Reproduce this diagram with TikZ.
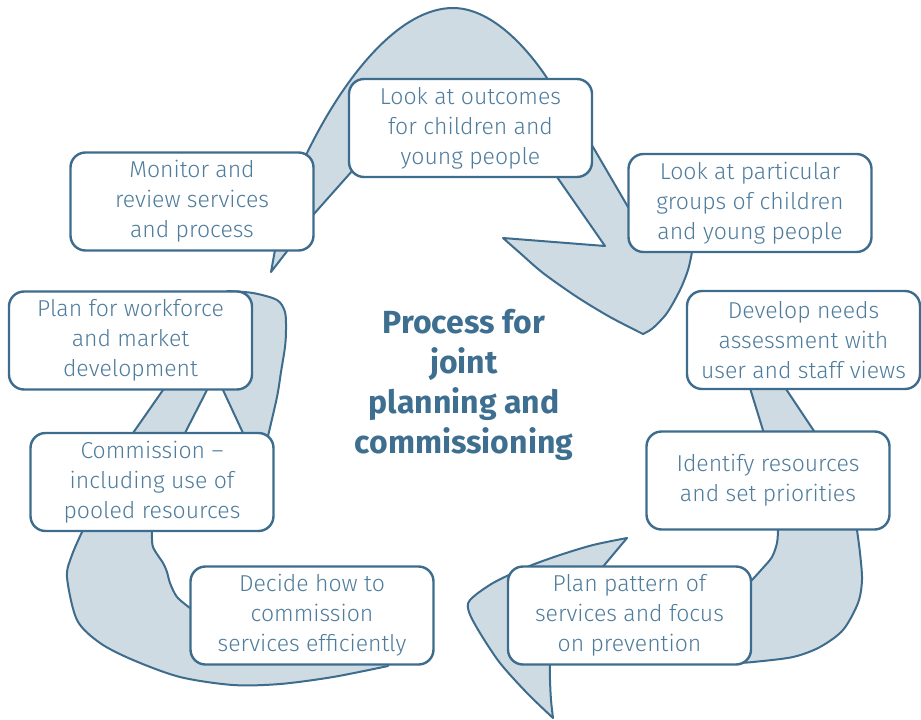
\documentclass[tikz,border=0pt]{standalone}
\usepackage{fontspec}
\newfontfamily\boxfont{Fira Sans Light}
\newfontfamily\titlefont{Fira Sans}
\definecolor{strk}{RGB}{62,108,141}
\definecolor{bandfill}{RGB}{206,219,227}
\definecolor{txt}{RGB}{78,124,156}
\definecolor{ttl}{RGB}{62,111,145}
\begin{document}
\begin{tikzpicture}[x=1pt,y=-1pt,
  box/.style={draw=strk, line width=2.4pt, fill=white, rounded corners=15pt,
    minimum width=243pt, minimum height=98pt, align=center, text=txt,
    font=\boxfont\fontsize{23}{30}\selectfont, inner sep=0pt},
  band/.style={draw=strk, line width=2pt, fill=bandfill, line join=round}]
\useasboundingbox (0,0) rectangle (921,720);

% top arrow
\filldraw[band] (271,272) -- (275,250) -- (300,165) -- (307,153)
  .. controls (345,75) and (400,8) .. (453,8)
  .. controls (490,8) and (525,45) .. (547,78)
  -- (593,147) -- (628,207) -- (680,240)
  -- plot[smooth] coordinates {(692,252) (688,270) (680,290) (667,313) (653,328) (643,334)}
  -- plot[smooth] coordinates {(643,334) (610,317) (577,297) (543,273) (520,253) (503,238)}
  -- (605,246) -- (557,177) -- (557,170) -- (353,165) -- (353,170) -- (313,215)
  -- (300,235) -- (288,250) -- cycle;

% left arrow
\filldraw[band] (388,660)
  -- plot[smooth] coordinates {(388,666) (333,677) (280,684) (233,685) (180,677) (133,660) (100,643) (77,620) (67,577) (72,555) (82,532)}
  -- (100,500) -- (133,433) -- (163,390) -- (170,380) -- (200,380) -- (207,390) -- (185,433) -- (170,480)
  -- plot[smooth] coordinates {(152,532) (153,547) (163,563) (167,572) (170,583) (177,597) (190,608)}
  -- (250,640) -- cycle;
\filldraw[band] (243,433) -- (223,390) -- (225,320)
  -- plot[smooth] coordinates {(227,291) (253,293) (277,300) (285,312) (286,330) (285,347) (281,372) (277,397) (268,436)}
  -- (255,445) -- cycle;

% right arrow
\filldraw[band] (747.5,380) -- (766,440) -- (820,440) -- (780,380) -- cycle;
\filldraw[band] (778,520)
  -- plot[smooth] coordinates {(778,530) (777,543) (772,557) (762,569) (752,580)}
  -- (700,590) -- (596,575) -- (627,538)
  -- plot[smooth] coordinates {(627,538) (593,545) (560,555) (527,567) (493,583) (470,600) (469,612) (480,633) (500,663) (527,693) (553,718)}
  -- plot[smooth] coordinates {(553,718) (551,700) (550,680) (550,665)}
  -- (550,655) -- (737,655)
  -- plot[smooth] coordinates {(737,663) (753,662) (793,657) (820,647) (843,630) (858,603) (862,580) (860,553) (857,530)}
  -- (857,520) -- cycle;

% boxes
\node[box] (b1) at (470.5,128) {Look at outcomes\\for children and\\young people};
\node[box] (b2) at (750,203) {Look at particular\\groups of children\\and young people};
\node[box, minimum width=233pt] (b3) at (803.5,340) {Develop needs\\assessment with\\user and staff views};
\node[box] (b4) at (768,480.5) {Identify resources\\and set priorities};
\node[box] (b5) at (629.5,615.5) {Plan pattern of\\services and focus\\on prevention};
\node[box] (b6) at (312,615.5) {Decide how to\\commission\\services efficiently};
\node[box] (b7) at (152,482) {Commission –\\including use of\\pooled resources};
\node[box] (b8) at (130.5,340.5) {Plan for workforce\\and market\\development};
\node[box] (b9) at (192,201.5) {Monitor and\\review services\\and process};

\node[text=ttl, align=center, font=\titlefont\bfseries\fontsize{32}{40}\selectfont] (title) at (464,385) {Process for\\joint\\planning and\\commissioning};
\end{tikzpicture}
\end{document}
